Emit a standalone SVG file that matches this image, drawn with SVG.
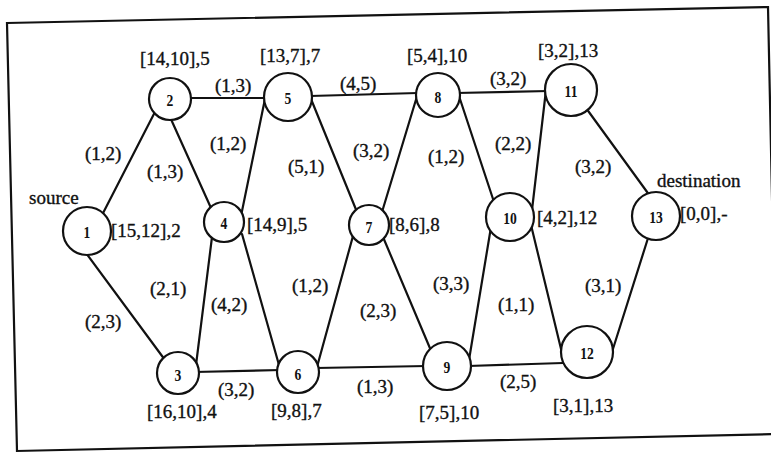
<svg xmlns="http://www.w3.org/2000/svg" width="771" height="453" viewBox="0 0 771 453">
  <style>
    .frame { fill: none; stroke: #111; stroke-width: 2.2; }
    .edge { stroke: #111; stroke-width: 2.2; stroke-linecap: round; }
    .node circle { fill: #fff; stroke: #111; stroke-width: 2.2; }
    .num { font-family: "Liberation Serif", "Times New Roman", serif; font-size: 16px; font-weight: bold; fill: #111; text-anchor: middle; }
    .lbl { font-family: "Liberation Serif", "Times New Roman", serif; font-size: 19px; fill: #111; stroke: #111; stroke-width: 0.35; }
  </style>
  <rect width="771" height="453" fill="#fff"/>

  <!-- slightly tilted outer frame -->
  <polygon class="frame" points="7,23 768,7 777,434 17,451"/>

  <!-- connectors -->
  <g id="connectors">
    <line class="edge" x1="100" y1="219" x2="157" y2="108"/>   <!-- 1-2 -->
    <line class="edge" x1="86" y1="253" x2="165" y2="360"/>    <!-- 1-3 -->
    <line class="edge" x1="170" y1="117" x2="211" y2="208"/>   <!-- 2-4 -->
    <line class="edge" x1="188" y1="98" x2="266" y2="98"/>     <!-- 2-5 -->
    <line class="edge" x1="196" y1="365" x2="212" y2="237"/>   <!-- 3-4 -->
    <line class="edge" x1="194" y1="372" x2="281" y2="370"/>   <!-- 3-6 -->
    <line class="edge" x1="241" y1="216" x2="266" y2="94"/>    <!-- 4-5 -->
    <line class="edge" x1="242" y1="234" x2="279" y2="365"/>   <!-- 4-6 -->
    <line class="edge" x1="311" y1="99" x2="357" y2="212"/>    <!-- 5-7 -->
    <line class="edge" x1="310" y1="96" x2="418" y2="93"/>     <!-- 5-8 -->
    <line class="edge" x1="353" y1="236" x2="317" y2="367"/>   <!-- 6-7 -->
    <line class="edge" x1="316" y1="368" x2="427" y2="366"/>   <!-- 6-9 -->
    <line class="edge" x1="382" y1="212" x2="418" y2="93"/>    <!-- 7-8 -->
    <line class="edge" x1="383" y1="237" x2="432" y2="353"/>   <!-- 7-9 -->
    <line class="edge" x1="458" y1="93" x2="495" y2="205"/>    <!-- 8-10 -->
    <line class="edge" x1="456" y1="93" x2="549" y2="91"/>     <!-- 8-11 -->
    <line class="edge" x1="469" y1="360" x2="491" y2="227"/>   <!-- 9-10 -->
    <line class="edge" x1="468" y1="366" x2="563" y2="363"/>   <!-- 9-12 -->
    <line class="edge" x1="532" y1="210" x2="546" y2="90"/>    <!-- 10-11 -->
    <line class="edge" x1="531" y1="225" x2="562" y2="353"/>   <!-- 10-12 -->
    <line class="edge" x1="586" y1="108" x2="650" y2="196"/>   <!-- 11-13 -->
    <line class="edge" x1="612" y1="352" x2="649" y2="235"/>   <!-- 12-13 -->

    <!-- edge weights -->
    <g class="lbl">
      <text x="85" y="160">(1,2)</text>
      <text x="147" y="178">(1,3)</text>
      <text x="215" y="92">(1,3)</text>
      <text x="210" y="150">(1,2)</text>
      <text x="85" y="328">(2,3)</text>
      <text x="150" y="295">(2,1)</text>
      <text x="211" y="311">(4,2)</text>
      <text x="218" y="396">(3,2)</text>
      <text x="340" y="90">(4,5)</text>
      <text x="288" y="173">(5,1)</text>
      <text x="353" y="157">(3,2)</text>
      <text x="292" y="292">(1,2)</text>
      <text x="360" y="317">(2,3)</text>
      <text x="357" y="393">(1,3)</text>
      <text x="490" y="85">(3,2)</text>
      <text x="428" y="163">(1,2)</text>
      <text x="495" y="150">(2,2)</text>
      <text x="433" y="290">(3,3)</text>
      <text x="498" y="311">(1,1)</text>
      <text x="500" y="388">(2,5)</text>
      <text x="575" y="173">(3,2)</text>
      <text x="585" y="292">(3,1)</text>
    </g>
  </g>

  <!-- nodes -->
  <g id="n1" class="node">
    <circle cx="87" cy="231" r="24"/>
    <text class="num" transform="translate(87,238) scale(0.85,1)">1</text>
    <text class="lbl" x="29" y="204">source</text>
    <text class="lbl" x="111" y="237">[15,12],2</text>
  </g>
  <g id="n2" class="node">
    <circle cx="170" cy="99" r="21"/>
    <text class="num" transform="translate(170,106) scale(0.85,1)">2</text>
    <text class="lbl" x="140" y="65">[14,10],5</text>
  </g>
  <g id="n3" class="node">
    <circle cx="178" cy="373" r="21"/>
    <text class="num" transform="translate(178,381) scale(0.85,1)">3</text>
    <text class="lbl" x="147" y="418">[16,10],4</text>
  </g>
  <g id="n4" class="node">
    <circle cx="224" cy="222" r="20"/>
    <text class="num" transform="translate(224,229) scale(0.85,1)">4</text>
    <text class="lbl" x="247" y="231">[14,9],5</text>
  </g>
  <g id="n5" class="node">
    <circle cx="288" cy="97" r="24"/>
    <text class="num" transform="translate(288,104) scale(0.85,1)">5</text>
    <text class="lbl" x="260" y="62">[13,7],7</text>
  </g>
  <g id="n6" class="node">
    <circle cx="298" cy="372" r="21"/>
    <text class="num" transform="translate(298,380) scale(0.85,1)">6</text>
    <text class="lbl" x="271" y="417">[9,8],7</text>
  </g>
  <g id="n7" class="node">
    <circle cx="369" cy="225" r="20"/>
    <text class="num" transform="translate(369,233) scale(0.85,1)">7</text>
    <text class="lbl" x="389" y="231">[8,6],8</text>
  </g>
  <g id="n8" class="node">
    <circle cx="438" cy="95" r="22"/>
    <text class="num" transform="translate(438,103) scale(0.85,1)">8</text>
    <text class="lbl" x="407" y="62">[5,4],10</text>
  </g>
  <g id="n9" class="node">
    <circle cx="447" cy="366" r="24"/>
    <text class="num" transform="translate(447,373) scale(0.85,1)">9</text>
    <text class="lbl" x="419" y="419">[7,5],10</text>
  </g>
  <g id="n10" class="node">
    <circle cx="510" cy="217" r="24"/>
    <text class="num" transform="translate(510,224) scale(0.85,1)">10</text>
    <text class="lbl" x="537" y="224">[4,2],12</text>
  </g>
  <g id="n11" class="node">
    <circle cx="571" cy="90" r="26"/>
    <text class="num" transform="translate(571,97) scale(0.85,1)">11</text>
    <text class="lbl" x="538" y="57">[3,2],13</text>
  </g>
  <g id="n12" class="node">
    <circle cx="587" cy="352" r="26"/>
    <text class="num" transform="translate(587,359) scale(0.85,1)">12</text>
    <text class="lbl" x="553" y="412">[3,1],13</text>
  </g>
  <g id="n13" class="node">
    <circle cx="656" cy="216" r="24"/>
    <text class="num" transform="translate(656,223) scale(0.85,1)">13</text>
    <text class="lbl" x="657" y="187">destination</text>
    <text class="lbl" x="680" y="220">[0,0],-</text>
  </g>
</svg>
